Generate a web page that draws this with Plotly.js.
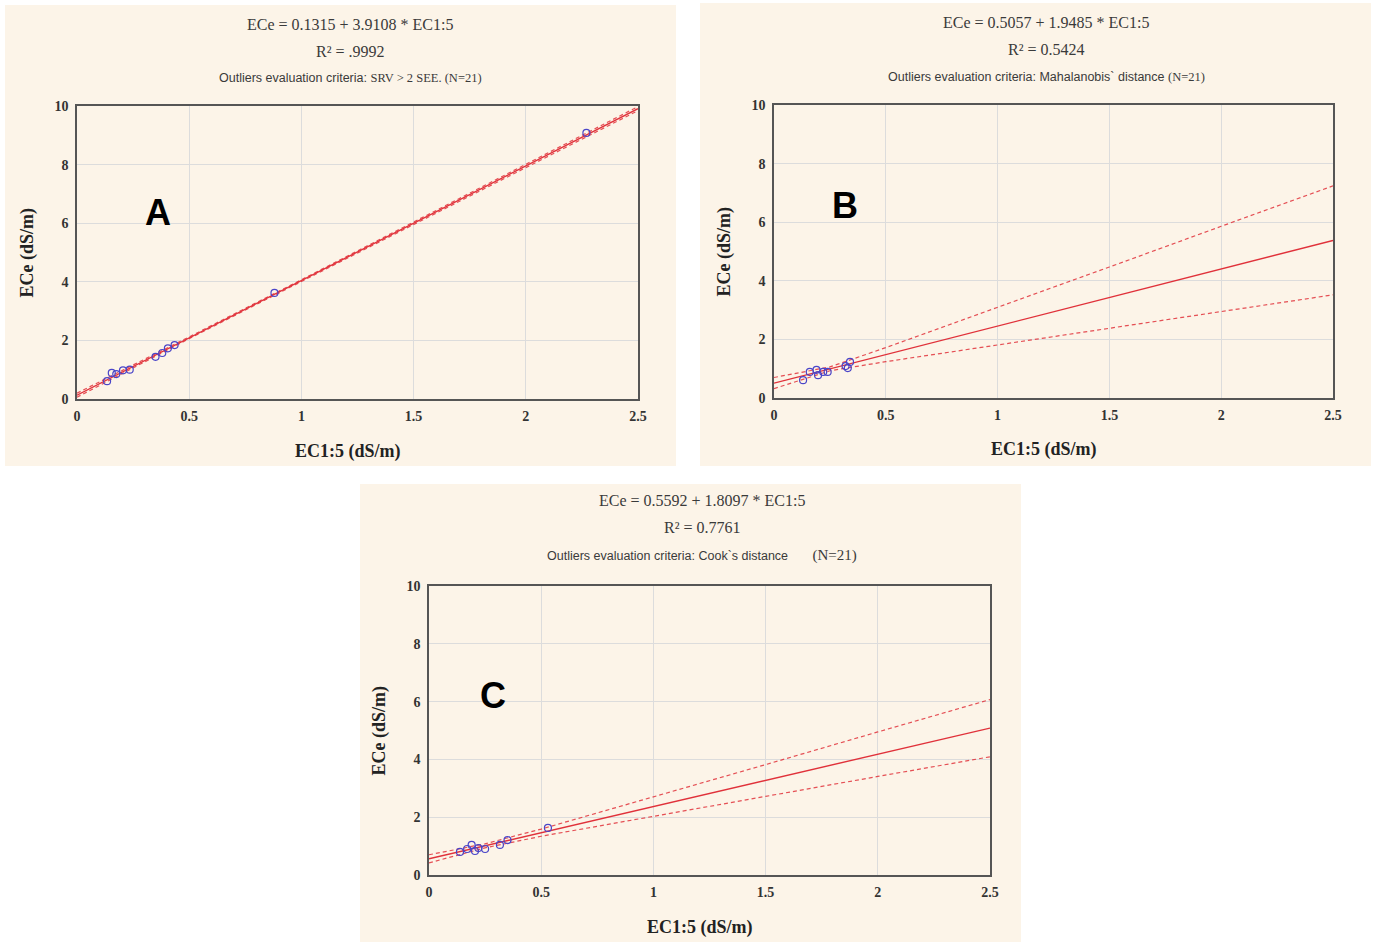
<!DOCTYPE html>
<html><head><meta charset="utf-8">
<script src="https://cdn.plot.ly/plotly-3.0.1.min.js"></script>
<style>html,body{margin:0;padding:0;background:#fff;}#chart{width:1374px;height:944px;}</style>
</head><body><div id="chart"></div>
<script>
// ---- data ----
const ptsAx = [0.134, 0.155, 0.175, 0.205, 0.235, 0.35, 0.38, 0.405, 0.435, 0.88, 2.27];
const ptsAy = [0.61, 0.89, 0.85, 0.98, 1.00, 1.44, 1.57, 1.73, 1.84, 3.62, 9.08];
const ptsBx = [0.13, 0.16, 0.19, 0.197, 0.22, 0.24, 0.32, 0.33, 0.34];
const ptsBy = [0.61, 0.89, 0.96, 0.78, 0.89, 0.89, 1.09, 1.02, 1.23];
const ptsCx = [0.138, 0.17, 0.19, 0.205, 0.22, 0.25, 0.316, 0.35, 0.53];
const ptsCy = [0.80, 0.90, 1.04, 0.83, 0.93, 0.90, 1.04, 1.21, 1.63];

const lineX = [0, 0.25, 0.5, 1, 1.5, 2, 2.5];
const fitA = [0.13, 1.11, 2.09, 4.04, 5.998, 7.95, 9.91];
const upA  = [0.20, 1.15, 2.12, 4.07, 6.04, 8.00, 9.98];
const loA  = [0.06, 1.07, 2.06, 4.01, 5.96, 7.90, 9.84];
const fitB = [0.506, 0.993, 1.48, 2.454, 3.429, 4.403, 5.377];
const upB  = [0.70, 1.06, 1.72, 3.09, 4.47, 5.86, 7.24];
const loB  = [0.32, 0.93, 1.24, 1.82, 2.38, 2.95, 3.52];
const fitC = [0.559, 1.012, 1.464, 2.369, 3.274, 4.179, 5.084];
const upC  = [0.70, 1.08, 1.59, 2.70, 3.82, 4.95, 6.07];
const loC  = [0.42, 0.94, 1.34, 2.04, 2.72, 3.41, 4.09];

const titles = [
  ["ECe = 0.1315 + 3.9108 * EC1:5", "R² = .9992", "Outliers evaluation criteria: <span style='font-family:Liberation Serif'>SRV > 2 SEE. (N=21)</span>"],
  ["ECe = 0.5057 + 1.9485 * EC1:5", "R² = 0.5424", "Outliers evaluation criteria: Mahalanobis` distance <span style='font-family:Liberation Serif'>(N=21)</span>"],
  ["ECe = 0.5592 + 1.8097 * EC1:5", "R² = 0.7761", "Outliers evaluation criteria: Cook`s distance       <span style='font-family:Liberation Serif;font-size:15px'>(N=21)</span>"]
];
const letters = ["A", "B", "C"];
const xTitle = "EC1:5 (dS/m)";
const yTitle = "ECe (dS/m)";

// ---- layout geometry (pixels) ----
const W = 1374, H = 944;
const panels = [
  {bg:[5,5,676,466],  plot:[77,106,638,399],  title:350,  ty:[24,51,78],   letter:[158,212]},
  {bg:[700,3,1371,466], plot:[774,105,1333,398], title:1046, ty:[22,50,77], letter:[845,206]},
  {bg:[360,484,1021,942], plot:[429,586,990,875], title:702,  ty:[500,527,555], letter:[493,695]}
];
const px = x => x / W, py = y => 1 - y / H;

const red = '#e0313a', blue = '#4a45c8';
const traces = [];
const ptsX = [ptsAx, ptsBx, ptsCx], ptsY = [ptsAy, ptsBy, ptsCy];
const fits = [fitA, fitB, fitC], ups = [upA, upB, upC], los = [loA, loB, loC];
for (let i = 0; i < 3; i++) {
  const xa = i === 0 ? 'x' : 'x' + (i + 1), ya = i === 0 ? 'y' : 'y' + (i + 1);
  traces.push({x: lineX, y: ups[i], xaxis: xa, yaxis: ya, mode: 'lines', line: {color: red, width: 1.2, dash: '4px,3px'}, opacity: 0.85, showlegend: false, hoverinfo: 'skip'});
  traces.push({x: lineX, y: los[i], xaxis: xa, yaxis: ya, mode: 'lines', line: {color: red, width: 1.2, dash: '4px,3px'}, opacity: 0.85, showlegend: false, hoverinfo: 'skip'});
  traces.push({x: lineX, y: fits[i], xaxis: xa, yaxis: ya, mode: 'lines', line: {color: red, width: 1.4}, showlegend: false});
  traces.push({x: ptsX[i], y: ptsY[i], xaxis: xa, yaxis: ya, mode: 'markers', marker: {symbol: 'circle-open', size: 7, color: blue, line: {width: 1.2, color: blue}}, showlegend: false});
}

const tickFont = {family: 'Liberation Serif, serif', size: 14, color: '#333', weight: 'bold'};
const layout = {
  width: W, height: H, margin: {l: 0, r: 0, t: 0, b: 0},
  paper_bgcolor: '#ffffff', plot_bgcolor: '#ffffff',
  showlegend: false, shapes: [], annotations: []
};
panels.forEach((p, i) => {
  const suf = i === 0 ? '' : String(i + 1);
  const axBase = {showgrid: true, gridcolor: '#dcdcdc', gridwidth: 1, zeroline: false,
    showline: true, mirror: true, linecolor: '#555', linewidth: 1.8, ticks: '', tickfont: tickFont, fixedrange: true};
  layout['xaxis' + suf] = Object.assign({}, axBase, {domain: [px(p.plot[0]), px(p.plot[2])], range: [0, 2.5], dtick: 0.5, tick0: 0, anchor: 'y' + suf, ticklabelstandoff: 3});
  layout['yaxis' + suf] = Object.assign({}, axBase, {domain: [py(p.plot[3]), py(p.plot[1])], range: [0, 10], dtick: 2, tick0: 0, anchor: 'x' + suf, ticklabelstandoff: 4});
  layout.shapes.push({type: 'rect', xref: 'paper', yref: 'paper', x0: px(p.bg[0]), x1: px(p.bg[2]), y0: py(p.bg[3]), y1: py(p.bg[1]), fillcolor: '#fcf4e8', line: {width: 0}, layer: 'below'});
  const t = titles[i];
  layout.annotations.push({xref: 'paper', yref: 'paper', x: px(p.title), y: py(p.ty[0]), text: t[0], showarrow: false, font: {family: 'Liberation Serif, serif', size: 16, color: '#3a3a3a'}, xanchor: 'center', yanchor: 'middle'});
  layout.annotations.push({xref: 'paper', yref: 'paper', x: px(p.title), y: py(p.ty[1]), text: t[1], showarrow: false, font: {family: 'Liberation Serif, serif', size: 16, color: '#3a3a3a'}, xanchor: 'center', yanchor: 'middle'});
  layout.annotations.push({xref: 'paper', yref: 'paper', x: px(p.title), y: py(p.ty[2]), text: t[2], showarrow: false, font: {family: 'Liberation Sans, Arial, sans-serif', size: 12.5, color: '#3a3a3a'}, xanchor: 'center', yanchor: 'middle'});
  layout.annotations.push({xref: 'paper', yref: 'paper', x: px(p.letter[0]), y: py(p.letter[1]), text: '<b>' + letters[i] + '</b>', showarrow: false, font: {family: 'Liberation Sans, Arial, sans-serif', size: 36, color: '#000'}, xanchor: 'center', yanchor: 'middle'});
  const cx = (p.plot[0] + p.plot[2]) / 2 - 10, cy = (p.plot[1] + p.plot[3]) / 2;
  layout.annotations.push({xref: 'paper', yref: 'paper', x: px(cx), y: py(p.plot[3] + 52), text: '<b>' + xTitle + '</b>', showarrow: false, font: {family: 'Liberation Serif, serif', size: 18, color: '#222'}, xanchor: 'center', yanchor: 'middle'});
  layout.annotations.push({xref: 'paper', yref: 'paper', x: px(p.plot[0] - 50), y: py(cy), text: '<b>' + yTitle + '</b>', textangle: -90, showarrow: false, font: {family: 'Liberation Serif, serif', size: 18, color: '#222'}, xanchor: 'center', yanchor: 'middle'});
});
Plotly.newPlot('chart', traces, layout, {staticPlot: true, displayModeBar: false});
</script></body></html>
